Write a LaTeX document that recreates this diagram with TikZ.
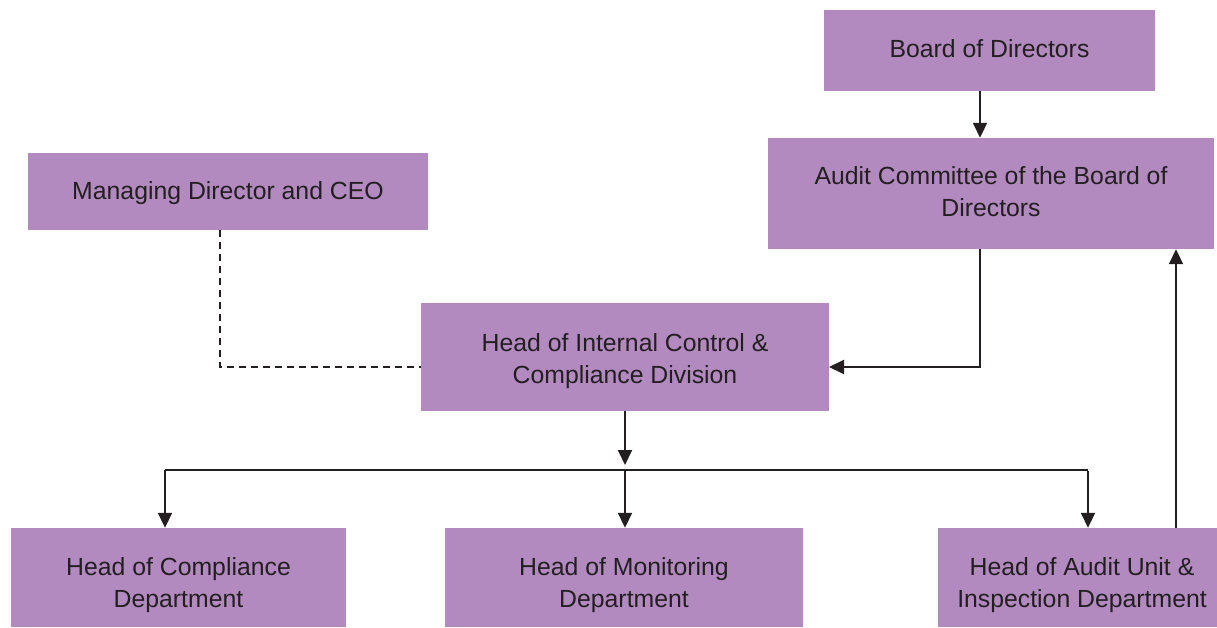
\documentclass[tikz,border=0pt]{standalone}
\usepackage{fontspec}
\setmainfont{Liberation Sans}
\usetikzlibrary{arrows.meta}
\definecolor{boxfill}{HTML}{B28AC0}
\definecolor{ink}{HTML}{231F20}
\begin{document}
\begin{tikzpicture}[x=1pt,y=-1pt,
  orgbox/.style={fill=boxfill,draw=none,inner sep=0pt},
  orgtext/.style={text=ink,align=center,inner sep=0pt,anchor=base,
    font=\fontsize{24.8}{32}\selectfont},
  link/.style={draw=ink,line width=1.9pt},
  thin/.style={draw=ink,line width=1.1pt},
  tip/.style={-{Triangle[length=15pt,width=14pt]}}]
\useasboundingbox (0,0) rectangle (1217,628);
% box #1 with corners (#2,#3)-(#4,#5); text centred on x=#6, last baseline at y=#7
\newcommand{\orgnode}[8]{%
  \node[orgbox,minimum width={#4-#2},minimum height={#5-#3}] (#1)
    at ({(#2+#4)/2},{(#3+#5)/2}) {};
  \node[orgtext] (#1-text) at (#6,#7) {#8};}
\orgnode{board}{824}{10}{1155}{91}{989.5}{57.5}{Board of Directors}
\orgnode{audit}{768}{138}{1214}{249}{991}{217}{Audit Committee of the Board of\\Directors}
\orgnode{ceo}{28}{153}{428}{230}{228}{199.5}{Managing Director and CEO}
\orgnode{hic}{421}{303}{829}{411}{625}{383}{Head of Internal Control \&\\Compliance Division}
\orgnode{comp}{11}{528}{346}{627}{178.5}{607.5}{Head of Compliance\\Department}
\orgnode{mon}{445}{528}{803}{627}{624}{607.5}{Head of Monitoring\\Department}
\orgnode{aui}{938}{528}{1217}{627}{1082}{607.5}{Head of Audit Unit \&\\Inspection Department}
% connector anchors
\coordinate (split) at (625,470);
\coordinate (bl) at (165,470);
\coordinate (br) at (1088,470);
\coordinate (hicin) at (829,367);
\coordinate (hicleft) at (421,367);
% reporting lines
\draw[link,tip] (board.south -| 980,0) -- (audit.north -| 980,0);
\draw[link,tip] (audit.south -| 980,0) |- (hicin);
\draw[link,dashed,dash pattern=on 7pt off 5pt,line width=1.4pt]
  (ceo.south -| 220,0) |- (hicleft);
\draw[link,tip,shorten >=5pt] (hic.south -| split) -- (split);
\draw[thin] (bl) -- (br);
\draw[link,tip] (bl) -- (comp.north -| bl);
\draw[link,tip] (split) -- (mon.north -| split);
\draw[link,tip] ([yshift=-1pt]br) -- (aui.north -| br);
\draw[link,tip] (aui.north -| 1176,0) -- (audit.south -| 1176,0);
\end{tikzpicture}
\end{document}
